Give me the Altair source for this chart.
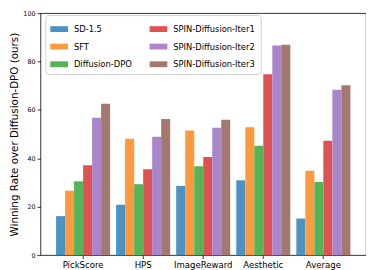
import altair as alt
import pandas as pd

categories = ["PickScore", "HPS", "ImageReward", "Aesthetic", "Average"]
series = ["SD-1.5", "SFT", "Diffusion-DPO",
          "SPIN-Diffusion-Iter1", "SPIN-Diffusion-Iter2", "SPIN-Diffusion-Iter3"]
sd15 = [16.1, 20.8, 28.6, 30.9, 15.1]
sft = [26.6, 48.1, 51.5, 52.8, 34.9]
dpo = [30.5, 29.3, 36.7, 45.2, 30.2]
iter1 = [37.1, 35.5, 40.5, 74.7, 47.3]
iter2 = [56.8, 48.9, 52.6, 86.6, 68.3]
iter3 = [62.5, 56.2, 55.9, 86.9, 70.2]
colors = ["#4c92c3", "#ff993e", "#56b356", "#de5253", "#a985ca", "#a3786f"]
y_ticks = [0, 20, 40, 60, 80, 100]

values = [sd15, sft, dpo, iter1, iter2, iter3]
rows = []
for s, vals in zip(series, values):
    for c, v in zip(categories, vals):
        rows.append({"category": c, "series": s, "value": v})
df = pd.DataFrame(rows)

chart = alt.Chart(df).mark_bar().encode(
    x=alt.X("category:N", sort=categories, title=None,
            scale=alt.Scale(paddingInner=0.1, paddingOuter=0.26),
            axis=alt.Axis(labelAngle=0, labelFontSize=8.7, tickSize=3.5,
                          labelPadding=2, domain=False)),
    xOffset=alt.XOffset("series:N", sort=series, scale=alt.Scale(paddingInner=0)),
    y=alt.Y("value:Q", scale=alt.Scale(domain=[0, 100], nice=False),
            title="Winning Rate over Diffusion-DPO (ours)",
            axis=alt.Axis(values=y_ticks, grid=False, labelFontSize=6.5,
                          tickSize=3.5, labelPadding=2, titleFontSize=10.5,
                          titlePadding=3, titleFontWeight="normal", domain=False)),
    color=alt.Color("series:N",
                    scale=alt.Scale(domain=series, range=colors),
                    legend=alt.Legend(title=None, orient="none", legendX=5, legendY=2,
                                      columns=2, columnPadding=18, rowPadding=4,
                                      padding=5, labelFontSize=8.5, labelOffset=6,
                                      symbolType="M-1,-0.33L1,-0.33L1,0.33L-1,0.33Z",
                                      symbolSize=324, symbolStrokeWidth=0,
                                      symbolOpacity=1, zindex=1,
                                      strokeColor="#d0d0d0", cornerRadius=3,
                                      fillColor="white")),
).properties(
    width=331, height=246,
    padding={"left": 2, "top": 0, "right": 0, "bottom": 0}
).configure(
    font="DejaVu Sans"
).configure_view(
    stroke="black", strokeWidth=0.8
).configure_axis(
    labelColor="black", titleColor="black", tickColor="black", tickWidth=0.8,
    labelFont="DejaVu Sans", titleFont="DejaVu Sans"
).configure_legend(
    labelColor="black", labelFont="DejaVu Sans"
)

chart.save("out.html", embed_options={"renderer": "svg", "actions": False})
